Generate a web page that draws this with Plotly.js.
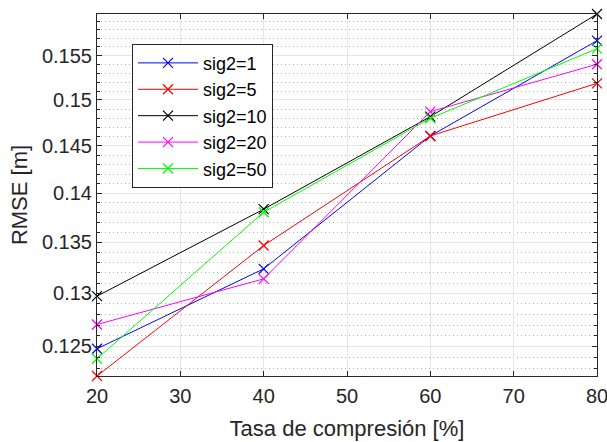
<!DOCTYPE html>
<html>
<head>
<meta charset="utf-8">
<script src="https://cdn.plot.ly/plotly-3.0.1.min.js"></script>
<style>html,body{margin:0;padding:0;background:#fff;}#chart{width:607px;height:442px;}</style>
</head>
<body>
<div id="chart"></div>
<script>
// Data
const compression = [20, 40, 60, 80];
const sig2_1  = [0.12479, 0.13239, 0.14606, 0.15673];
const sig2_5  = [0.12230, 0.13469, 0.14606, 0.15186];
const sig2_10 = [0.12974, 0.13836, 0.14816, 0.15985];
const sig2_20 = [0.12705, 0.13141, 0.14871, 0.15402];
const sig2_50 = [0.12387, 0.13805, 0.14798, 0.15580];
const seriesNames = ['sig2=1', 'sig2=5', 'sig2=10', 'sig2=20', 'sig2=50'];
const seriesColors = ['#0000ff', '#ff0000', '#000000', '#ff00ff', '#00ff00'];
const xTicks = [20, 30, 40, 50, 60, 70, 80];
const yTicks = [0.125, 0.13, 0.135, 0.14, 0.145, 0.15, 0.155];
const yTickLabels = ['0.125', '0.13', '0.135', '0.14', '0.145', '0.15', '0.155'];

const allSeries = [sig2_1, sig2_5, sig2_10, sig2_20, sig2_50];
const traces = allSeries.map((ys, i) => ({
  x: compression, y: ys, name: seriesNames[i], type: 'scatter', mode: 'lines+markers',
  cliponaxis: false,
  line: {color: seriesColors[i], width: 1},
  marker: {symbol: 'x-thin', size: 10, color: seriesColors[i], line: {color: seriesColors[i], width: 1.2}}
}));

const allY = allSeries.flat();
const yMin = Math.min(...allY), yMax = Math.max(...allY);
const minorVals = [];
for (let k = 120; k <= 160; k++) { if (k % 5 !== 0) minorVals.push(k / 1000); }

const axisColor = '#262626';
const layout = {
  width: 607, height: 442,
  margin: {l: 97, r: 10, t: 14, b: 66},
  paper_bgcolor: '#fff', plot_bgcolor: '#fff',
  font: {family: 'Liberation Sans, Arial, sans-serif', color: axisColor, size: 18},
  showlegend: true,
  legend: {
    x: 0.07, y: 0.918, xanchor: 'left', yanchor: 'top',
    bgcolor: '#fff', bordercolor: axisColor, borderwidth: 1,
    font: {size: 18, color: '#000'}, itemwidth: 60, tracegroupgap: 0
  },
  xaxis: {
    range: [20, 80], tickvals: xTicks, ticks: 'inside', ticklen: 5, tickcolor: axisColor,
    showline: true, linecolor: axisColor, linewidth: 1, mirror: 'ticks',
    showgrid: true, gridcolor: '#e6e6e6', gridwidth: 1, zeroline: false,
    ticklabeloverflow: 'allow', ticklabelstandoff: 2,
    tickfont: {size: 20, color: axisColor},
    title: {text: 'Tasa de compresión [%]', font: {size: 22, color: axisColor}, standoff: 14}
  },
  yaxis: {
    type: 'log', range: [Math.log10(yMin), Math.log10(yMax)],
    tickvals: yTicks, ticktext: yTickLabels, ticks: 'inside', ticklen: 5, tickcolor: axisColor,
    showline: true, linecolor: axisColor, linewidth: 1, mirror: 'ticks',
    showgrid: true, gridcolor: '#e6e6e6', gridwidth: 1, zeroline: false,
    tickfont: {size: 20, color: axisColor},
    minor: {tickmode: 'array', tickvals: minorVals, ticks: 'inside', ticklen: 3, tickcolor: axisColor,
            showgrid: true, gridcolor: '#b4b4b4', griddash: '1px,3px', gridwidth: 1},
    title: {text: 'RMSE [m]', font: {size: 22, color: axisColor}, standoff: 8}
  }
};

Plotly.newPlot('chart', traces, layout, {displayModeBar: false, staticPlot: true});
</script>
</body>
</html>
